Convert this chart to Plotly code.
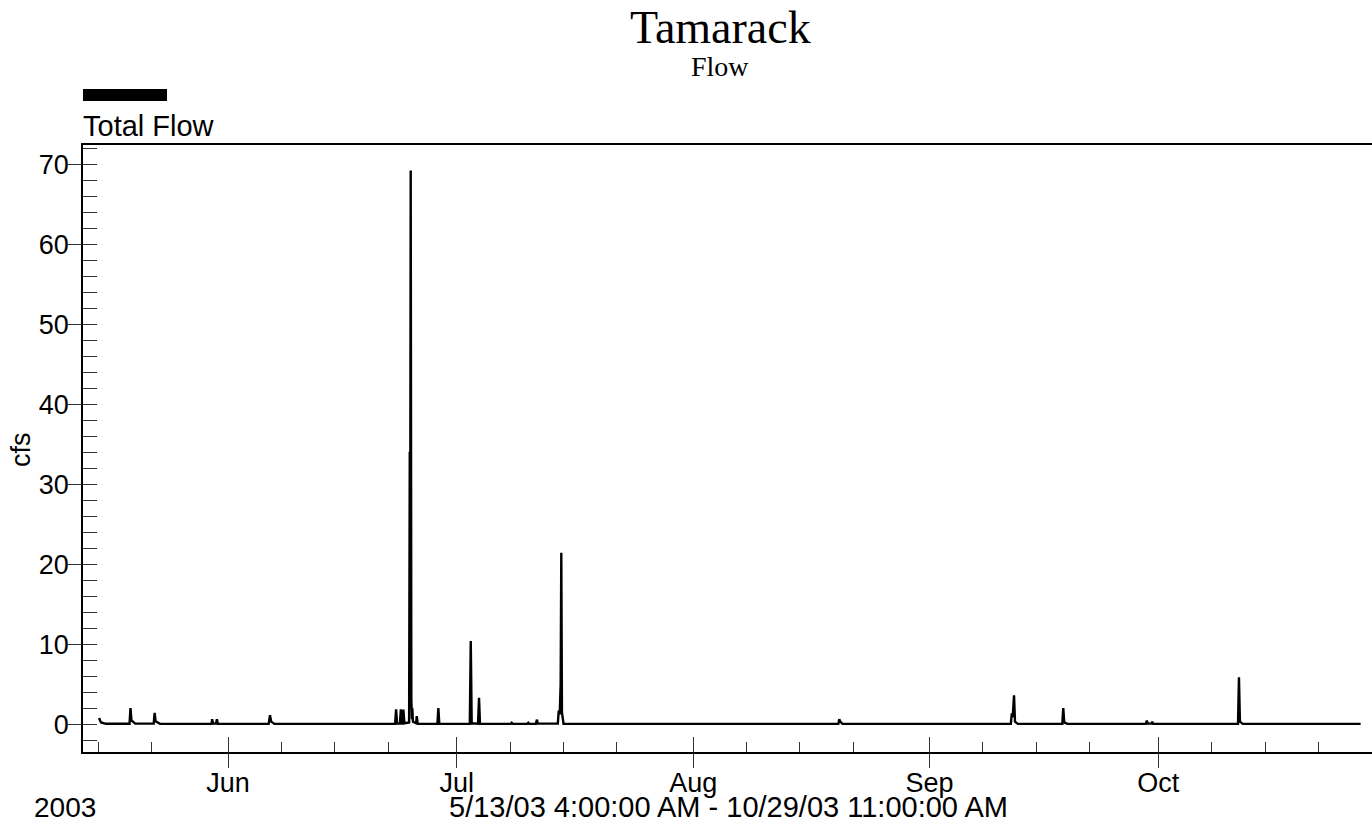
import plotly.graph_objects as go

# Total flow record (cfs), hourly storm peaks with baseflow knots in between
flow_times = [
    "2003-05-15 02:00", "2003-05-15 08:00", "2003-05-16 00:00",
    "2003-05-19 02:00", "2003-05-19 05:00", "2003-05-19 08:00", "2003-05-19 20:00",
    "2003-05-22 06:00", "2003-05-22 09:00", "2003-05-22 12:00", "2003-05-23 02:00",
    "2003-05-29 20:00", "2003-05-29 22:00", "2003-05-30 01:00",
    "2003-05-30 10:00", "2003-05-30 13:00", "2003-05-30 16:00",
    "2003-06-06 08:00", "2003-06-06 12:00", "2003-06-06 16:00", "2003-06-07 02:00",
    "2003-06-22 22:00", "2003-06-23 01:00", "2003-06-23 04:00",
    "2003-06-23 13:00", "2003-06-23 16:00", "2003-06-23 19:00",
    "2003-06-23 22:00", "2003-06-24 00:00", "2003-06-24 03:00",
    "2003-06-24 18:00", "2003-06-24 20:00", "2003-06-24 21:00", "2003-06-24 23:00", "2003-06-25 01:00",
    "2003-06-25 03:00", "2003-06-25 04:00", "2003-06-25 06:00",
    "2003-06-25 16:00", "2003-06-25 18:00", "2003-06-25 21:00",
    "2003-06-28 11:00", "2003-06-28 14:00", "2003-06-28 17:00",
    "2003-07-02 17:00", "2003-07-02 20:00", "2003-07-02 23:00",
    "2003-07-03 19:00", "2003-07-03 22:00", "2003-07-04 01:00",
    "2003-07-08 02:00", "2003-07-08 05:00", "2003-07-08 08:00",
    "2003-07-10 06:00", "2003-07-10 09:00", "2003-07-10 12:00",
    "2003-07-11 09:00", "2003-07-11 12:00", "2003-07-11 15:00",
    "2003-07-14 06:00", "2003-07-14 09:00", "2003-07-14 12:00", "2003-07-14 15:00",
    "2003-07-14 17:00", "2003-07-14 19:00", "2003-07-15 00:00",
    "2003-07-20 02:00", "2003-07-20 05:00", "2003-07-20 08:00",
    "2003-08-20 01:00", "2003-08-20 04:00", "2003-08-20 07:00", "2003-08-20 14:00",
    "2003-09-11 16:00", "2003-09-11 19:00", "2003-09-11 22:00", "2003-09-12 02:00",
    "2003-09-12 05:00", "2003-09-12 14:00",
    "2003-09-18 10:00", "2003-09-18 13:00", "2003-09-18 16:00", "2003-09-19 02:00",
    "2003-09-29 09:00", "2003-09-29 12:00", "2003-09-29 15:00",
    "2003-09-30 02:00", "2003-09-30 05:00", "2003-09-30 08:00",
    "2003-10-11 11:00", "2003-10-11 14:00", "2003-10-11 17:00", "2003-10-12 02:00",
    "2003-10-27 13:00",
]
flow_cfs = [
    0.75, 0.2, 0.03,
    0.03, 2.0, 0.45, 0.05,
    0.05, 1.4, 0.35, 0.03,
    0.02, 0.6, 0.05,
    0.05, 0.6, 0.02,
    0.02, 1.1, 0.3, 0.02,
    0.02, 1.85, 0.05,
    0.05, 1.85, 0.05,
    0.05, 1.8, 0.1,
    0.2, 34.1, 8.0, 69.3, 3.0,
    0.6, 2.0, 0.3,
    0.1, 1.0, 0.05,
    0.02, 2.0, 0.05,
    0.02, 10.4, 0.1,
    0.05, 3.3, 0.05,
    0.02, 0.15, 0.02,
    0.02, 0.15, 0.02,
    0.02, 0.55, 0.05,
    0.05, 1.7, 1.2, 5.0,
    21.45, 1.5, 0.02,
    0.02, 0.1, 0.02,
    0.02, 0.6, 0.3, 0.02,
    0.02, 1.35, 0.9, 3.6,
    0.3, 0.02,
    0.02, 2.0, 0.2, 0.02,
    0.02, 0.42, 0.05,
    0.05, 0.28, 0.02,
    0.02, 5.85, 0.3, 0.02,
    0.02,
]

# Axis ticks
month_ticks = ["2003-06-01", "2003-07-01", "2003-08-01", "2003-09-01", "2003-10-01"]
month_labels = ["Jun", "Jul", "Aug", "Sep", "Oct"]
week_ticks = [
    "2003-05-15", "2003-05-22",
    "2003-06-08", "2003-06-15", "2003-06-22",
    "2003-07-08", "2003-07-15", "2003-07-22",
    "2003-08-08", "2003-08-15", "2003-08-22",
    "2003-09-08", "2003-09-15", "2003-09-22",
    "2003-10-08", "2003-10-15", "2003-10-22",
]
cfs_ticks = [0, 10, 20, 30, 40, 50, 60, 70]
x_range = ["2003-05-12 23:30", "2003-10-29 00:45"]
y_range = [-3.5, 72.5]

SANS = "Arial, Liberation Sans, sans-serif"
SERIF = "Times New Roman, Liberation Serif, serif"
W, H = 1372, 825
L, R, T, B = 83, 0, 145, 73
pw, ph = W - L - R, H - T - B


def px(x):
    return (x - L) / pw


def py(y):
    return (H - B - y) / ph


fig = go.Figure()
fig.add_trace(go.Scatter(
    x=flow_times, y=flow_cfs, mode="lines", name="Total Flow",
    line=dict(color="black", width=2.4), showlegend=False,
))
# Empty traces so the overlaid tick-only axes are built
for xa, ya in [("x2", "y"), ("x3", "y"), ("x", "y2"), ("x", "y3")]:
    fig.add_trace(go.Scatter(x=[], y=[], xaxis=xa, yaxis=ya, showlegend=False))

tick_color = "#333"
tick_w = 1.2


def tick_axis(rng, over, anchor, direction, length, vals, **kw):
    return dict(range=rng, overlaying=over, anchor=anchor,
                showgrid=False, zeroline=False, showline=False,
                showticklabels=False, tickmode="array", tickvals=vals,
                ticks=direction, ticklen=length, tickwidth=tick_w,
                tickcolor=tick_color, **kw)


fig.update_layout(
    width=W, height=H,
    margin=dict(l=L, r=R, t=T, b=B),
    paper_bgcolor="white", plot_bgcolor="white",
    showlegend=False,
    font=dict(family=SANS, size=27, color="black"),
    xaxis=dict(
        type="date", range=x_range, showgrid=False, zeroline=False,
        showline=True, linecolor="black", linewidth=1.6, mirror=True,
        tickmode="array", tickvals=month_ticks, ticktext=month_labels,
        ticks="outside", ticklen=6, tickwidth=tick_w, tickcolor=tick_color,
        tickfont=dict(family=SANS, size=27, color="black"),
        minor=dict(tickmode="array", tickvals=week_ticks, ticks="inside",
                   ticklen=10, tickwidth=tick_w, tickcolor=tick_color, showgrid=False),
    ),
    xaxis2=tick_axis(x_range, "x", "y", "inside", 15, month_ticks, type="date"),
    xaxis3=tick_axis(x_range, "x", "y", "outside", 15, month_ticks, type="date"),
    yaxis=dict(
        range=y_range, showgrid=False, zeroline=False,
        showline=True, linecolor="black", linewidth=1.8,
        tickmode="array", tickvals=cfs_ticks,
        ticks="outside", ticklen=7, tickwidth=tick_w, tickcolor=tick_color,
        tickfont=dict(family=SANS, size=27, color="black"),
        minor=dict(dtick=2, tick0=0, ticks="inside", ticklen=14,
                   tickwidth=tick_w, tickcolor=tick_color, showgrid=False),
    ),
    yaxis2=tick_axis(y_range, "y", "x", "inside", 14, cfs_ticks, side="left"),
    yaxis3=tick_axis(y_range, "y", "x", "outside", 15, cfs_ticks, side="left"),
)

# Legend swatch and label
fig.add_shape(type="rect", xref="paper", yref="paper",
              x0=px(83), x1=px(167), y0=py(101), y1=py(89),
              fillcolor="black", line=dict(width=0))
fig.add_annotation(text="Total Flow", xref="paper", yref="paper",
                   x=px(81), y=py(126), xanchor="left", yanchor="middle",
                   showarrow=False, font=dict(family=SANS, size=29, color="black"))

# Titles
fig.add_annotation(text="Tamarack", xref="paper", yref="paper",
                   x=px(720), y=py(28), xanchor="center", yanchor="middle",
                   showarrow=False, font=dict(family=SERIF, size=46, color="black"))
fig.add_annotation(text="Flow", xref="paper", yref="paper",
                   x=px(720), y=py(66), xanchor="center", yanchor="middle",
                   showarrow=False, font=dict(family=SERIF, size=28, color="black"))

# Y axis title
fig.add_annotation(text="cfs", xref="paper", yref="paper",
                   x=px(21), y=py(450), xanchor="center", yanchor="middle",
                   textangle=-90, showarrow=False,
                   font=dict(family=SANS, size=27, color="black"))

# Bottom captions, sitting on the lower page edge
fig.add_annotation(text="2003", xref="paper", yref="paper",
                   x=px(65), y=py(824), xanchor="center", yanchor="bottom",
                   borderpad=0, showarrow=False,
                   font=dict(family=SANS, size=28, color="black"))
fig.add_annotation(text="5/13/03 4:00:00 AM - 10/29/03 11:00:00 AM",
                   xref="paper", yref="paper",
                   x=px(728), y=py(824), xanchor="center", yanchor="bottom",
                   borderpad=0, showarrow=False,
                   font=dict(family=SANS, size=29, color="black"))

fig.write_html("out.html")
